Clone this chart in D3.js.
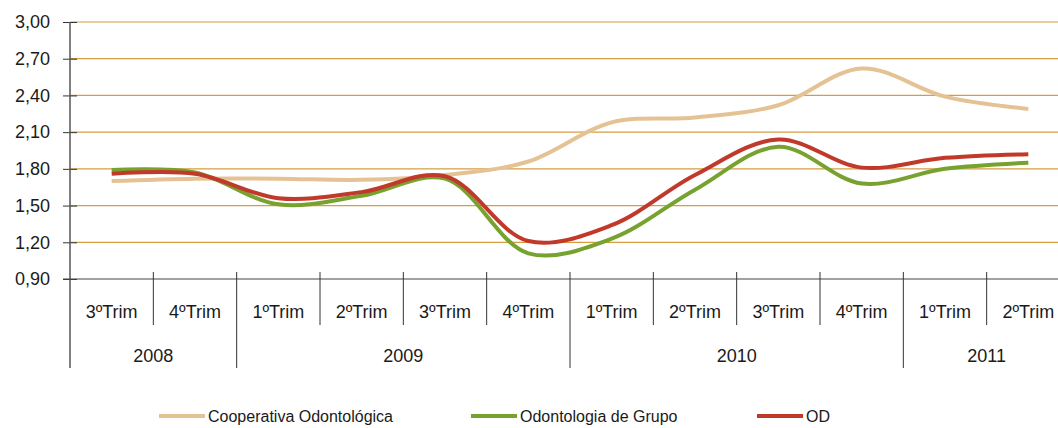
<!DOCTYPE html>
<html>
<head>
<meta charset="utf-8">
<script src="https://cdnjs.cloudflare.com/ajax/libs/d3/7.8.5/d3.min.js"></script>
<style>
  body { margin: 0; background: #fff; }
  text { font-family: "Liberation Sans", Arial, sans-serif; fill: #1a1a1a; }
</style>
</head>
<body>
<div id="chart"></div>
<script>
// data
var quarters = ["3ºTrim","4ºTrim","1ºTrim","2ºTrim","3ºTrim","4ºTrim","1ºTrim","2ºTrim","3ºTrim","4ºTrim","1ºTrim","2ºTrim"];
var years    = ["2008","2008","2009","2009","2009","2009","2010","2010","2010","2010","2011","2011"];
var yTicks   = [0.9, 1.2, 1.5, 1.8, 2.1, 2.4, 2.7, 3.0];

var cooperativa = [1.70, 1.72, 1.72, 1.71, 1.75, 1.86, 2.18, 2.22, 2.32, 2.62, 2.39, 2.29];
var grupo       = [1.79, 1.77, 1.51, 1.58, 1.72, 1.11, 1.23, 1.63, 1.98, 1.68, 1.80, 1.85];
var od          = [1.76, 1.76, 1.56, 1.61, 1.74, 1.21, 1.34, 1.75, 2.04, 1.81, 1.89, 1.92];

var seriesNames  = ["Cooperativa Odontológica", "Odontologia de Grupo", "OD"];
var seriesColors = ["#e5c294", "#77a22f", "#c0392b"];

var W = 1058, H = 428;
var plotLeft = 70, plotRight = 1070, plotTop = 22, plotBottom = 279;

var svg = d3.select("#chart").append("svg")
    .attr("width", W)
    .attr("height", H);

var x = d3.scaleBand()
    .domain(d3.range(quarters.length))
    .range([plotLeft, plotRight])
    .padding(0);

var y = d3.scaleLinear()
    .domain([0.9, 3.0])
    .range([plotBottom, plotTop]);

// grid lines
svg.selectAll(".grid")
    .data(yTicks.slice(1))
  .enter().append("line")
    .attr("class", "grid")
    .attr("x1", plotLeft).attr("x2", W)
    .attr("y1", function(d){ return y(d); })
    .attr("y2", function(d){ return y(d); })
    .attr("stroke", "#d49d42")
    .attr("stroke-width", 1.2);

// y axis
var yAxis = d3.axisLeft(y)
    .tickValues(yTicks)
    .tickSize(7)
    .tickFormat(function(d){ return d3.format(".2f")(d).replace(".", ","); });

var gy = svg.append("g")
    .attr("transform", "translate(" + plotLeft + ",0)")
    .call(yAxis);
gy.select(".domain").remove();
gy.selectAll(".tick line").attr("x2", 7).attr("x1", -7).attr("stroke", "#333");
gy.selectAll(".tick text")
    .attr("x", -20)
    .style("font-size", "18px")
    .style("font-family", "Liberation Sans, Arial, sans-serif")
    .attr("fill", "#1a1a1a");

// vertical axis line, runs down through the category table
svg.append("line")
    .attr("x1", plotLeft).attr("x2", plotLeft)
    .attr("y1", plotTop).attr("y2", 368)
    .attr("stroke", "#555").attr("stroke-width", 1.5);

// x axis line
svg.append("line")
    .attr("x1", plotLeft - 7).attr("x2", W)
    .attr("y1", plotBottom).attr("y2", plotBottom)
    .attr("stroke", "#444").attr("stroke-width", 1.2);

// dividers between quarters (longer ones where the year changes)
var edges = d3.range(1, quarters.length);
svg.selectAll(".qdiv")
    .data(edges)
  .enter().append("line")
    .attr("x1", function(i){ return x(i); })
    .attr("x2", function(i){ return x(i); })
    .attr("y1", 272)
    .attr("y2", function(i){ return years[i] != years[i-1] ? 368 : 325; })
    .attr("stroke", "#333").attr("stroke-width", 1);

svg.selectAll(".qlab")
    .data(quarters)
  .enter().append("text")
    .attr("x", function(d, i){ return x(i) + x.bandwidth() / 2; })
    .attr("y", 318)
    .attr("text-anchor", "middle")
    .style("font-size", "18px")
    .text(function(d){ return d; });

// year labels, centred under their quarters
var yearGroups = d3.groups(d3.range(years.length), function(i){ return years[i]; });
svg.selectAll(".ylab")
    .data(yearGroups)
  .enter().append("text")
    .attr("x", function(g){
      var a = x(g[1][0]), b = x(g[1][g[1].length - 1]) + x.bandwidth();
      return (a + b) / 2;
    })
    .attr("y", 362)
    .attr("text-anchor", "middle")
    .style("font-size", "18px")
    .text(function(g){ return g[0]; });

// lines
var valueline = d3.line()
    .curve(d3.curveCatmullRom.alpha(0.5))
    .x(function(d, i){ return x(i) + x.bandwidth() / 2; })
    .y(function(d){ return y(d); });

var allSeries = [cooperativa, grupo, od];
for (var s = 0; s < allSeries.length; s++) {
  svg.append("path")
      .datum(allSeries[s])
      .attr("fill", "none")
      .attr("stroke", seriesColors[s])
      .attr("stroke-width", 4)
      .attr("d", valueline);
}

// legend
var legendX = [159, 471, 757];
for (var k = 0; k < seriesNames.length; k++) {
  svg.append("line")
      .attr("x1", legendX[k]).attr("x2", legendX[k] + 46)
      .attr("y1", 416).attr("y2", 416)
      .attr("stroke", seriesColors[k])
      .attr("stroke-width", 4);
  svg.append("text")
      .attr("x", legendX[k] + 49)
      .attr("y", 422)
      .style("font-size", "16px")
      .text(seriesNames[k]);
}
</script>
</body>
</html>
